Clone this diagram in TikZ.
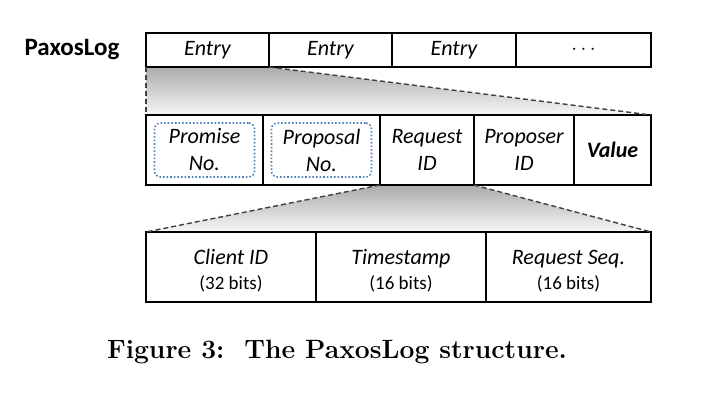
\documentclass[tikz,border=0pt]{standalone}
\usepackage{fontspec}
\setsansfont{Carlito}
\usepackage{tikz}
\usetikzlibrary{positioning,backgrounds}
\definecolor{dotblue}{RGB}{79,129,189}
\newcommand{\bitsfont}{\upshape\fontsize{19}{24}\selectfont}
\newcommand{\up}{\rule{0pt}{23pt}}

\begin{document}
\begin{tikzpicture}[x=1pt, y=-1pt,
    cell/.style={draw, line width=1.6pt, outer sep=0pt, inner sep=0pt,
        align=center, font=\sffamily\itshape\fontsize{22}{27}\selectfont},
    dotbox/.style={draw=dotblue, dotted, line width=1.6pt,
        rounded corners=6pt, minimum width=100pt, minimum height=54pt},
    dashline/.style={black!75, line width=1.4pt, dash pattern=on 5pt off 3pt},
    fade/.style={top color=black!33, bottom color=black!3}]

    \useasboundingbox (0,0) rectangle (709,400);

    \node[font=\sffamily\bfseries\fontsize{25}{30}\selectfont] (paxoslog) at (72,50) {PaxosLog};

    % the log
    \node[cell, anchor=north west, minimum width=123pt, minimum height=34pt] (e1) at (146,33) {Entry};
    \node[cell, right=0pt of e1, minimum width=123pt, minimum height=34pt] (e2) {Entry};
    \node[cell, right=0pt of e2, minimum width=124pt, minimum height=34pt] (e3) {Entry};
    \node[cell, right=0pt of e3, minimum width=135pt, minimum height=34pt] (e4) {$\cdots$};

    % one entry
    \node[cell, anchor=north west, minimum width=117pt, minimum height=70pt] (prom) at (146,115) {Promise\\No.};
    \node[cell, right=0pt of prom, minimum width=117pt, minimum height=70pt] (prop) {Proposal\\No.};
    \node[cell, right=0pt of prop, minimum width=94pt, minimum height=70pt] (reqid) {Request\\ID};
    \node[cell, right=0pt of reqid, minimum width=100pt, minimum height=70pt] (propr) {Proposer\\ID};
    \node[cell, right=0pt of propr, minimum width=77pt, minimum height=70pt, font=\sffamily\bfseries\itshape\fontsize{22}{27}\selectfont] (value) {Value};

    \node[dotbox] (promdot) at (prom.center) {};
    \node[dotbox] (propdot) at (prop.center) {};

    % the request id
    \node[cell, anchor=north west, minimum width=170pt, minimum height=70pt] (client) at (146,232) {\up Client ID\\[-2pt]{\bitsfont (32 bits)}};
    \node[cell, right=0pt of client, minimum width=170pt, minimum height=70pt] (stamp) {\up Timestamp\\[-2pt]{\bitsfont (16 bits)}};
    \node[cell, right=0pt of stamp, minimum width=165pt, minimum height=70pt] (reqseq) {\up Request Seq.\\[-2pt]{\bitsfont (16 bits)}};

    \begin{scope}[on background layer]
        \shade[fade] (e1.south west) -- (e1.south east) -- (value.north east) -- (prom.north west) -- cycle;
        \shade[fade] (reqid.south west) -- (reqid.south east) -- (reqseq.north east) -- (client.north west) -- cycle;
    \end{scope}

    \draw[dashline] (e1.south west) -- (prom.north west);
    \draw[dashline] (e1.south east) -- (value.north east);
    \draw[dashline] (reqid.south west) -- (client.north west);
    \draw[dashline] (reqid.south east) -- (reqseq.north east);

    \node[font=\bfseries\fontsize{26.5}{31}\selectfont] (caption) at (337,352) {Figure 3:\ \ The PaxosLog structure.};

\end{tikzpicture}
\end{document}
